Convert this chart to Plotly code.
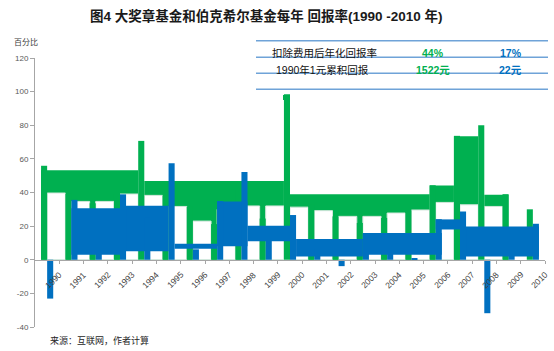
import plotly.graph_objects as go

# ---------------- data ----------------
years = [str(y) for y in range(1990, 2011)]
medallion = [55.9, 39.4, 33.6, 39.1, 70.7, 38.3, 31.5, 21.2, 41.5, 24.5, 98.5,
             33.0, 25.8, 21.9, 24.9, 29.5, 44.3, 73.7, 80.0, 39.0, 30.0]
berkshire = [-23.1, 35.6, 29.8, 38.9, 25.0, 57.4, 6.2, 34.9, 52.2, 19.9, 26.6,
             6.5, -3.8, 15.8, 4.3, 0.8, 24.1, 28.7, -31.8, 2.7, 21.4]

# broken-render green blocks (category units: start, end, top value)
green_block_start = [-0.25, 4.0, 10.0, 15.75, 16.75, 18.0]
green_block_end = [3.75, 9.75, 15.75, 16.75, 17.75, 19.0]
green_block_top = [53.2, 46.8, 39.0, 44.2, 73.4, 38.7]

# white gaps between the green bars (one per year 1990..2008)
gap_top = [39.7, 34.7, 34.7, 39.1, 38.3, 31.7, 23.0, 30.0, 32.0, 32.0,
           31.3, 29.2, 25.8, 25.8, 27.8, 29.6, 34.1, 32.7, 31.7]

# broken-render blue blocks
blue_block_start = [1.0, 3.0, 5.25, 7.0, 8.25, 10.25, 13.0, 16.0, 17.0]
blue_block_end = [3.0, 5.0, 7.0, 8.25, 10.0, 13.0, 16.25, 17.0, 20.25]
blue_block_low = [3.0, 5.0, 6.5, 8.0, 11.0, 2.0, 3.0, 18.0, 2.0]
blue_block_high = [30.7, 32.1, 9.5, 34.7, 20.2, 12.3, 15.9, 24.0, 19.8]

y_ticks = [-40, -20, 0, 20, 40, 60, 80, 100, 120]
y_tick_text = ["-40", "-20", "0", "20", "40", "60", "80", "100", "120"]

table_rows = ["扣除费用后年化回报率", "1990年1元累积回报"]
table_green = ["44%", "1522元"]
table_blue = ["17%", "22元"]

# ---------------- layout helpers ----------------
W, H = 554, 351
ML, MR, MT, MB = 35, 9, 58, 24
PW, PH = W - ML - MR, H - MT - MB


def px(x):
    return (x - ML) / PW


def py(y):
    return (H - MB - y) / PH


GREEN = "#00b050"
BLUE = "#0070c0"
FONT = "Liberation Sans, Arial, Noto Sans CJK SC, sans-serif"
idx = list(range(len(years)))
cat_px = PW / len(years)

fig = go.Figure()

# green blocks
fig.add_bar(
    x=[(s + e) / 2 for s, e in zip(green_block_start, green_block_end)],
    y=green_block_top,
    width=[e - s for s, e in zip(green_block_start, green_block_end)],
    base=0,
    marker=dict(color=GREEN, line=dict(width=0)),
)
# white gaps
fig.add_bar(
    x=list(range(len(gap_top))), y=gap_top, offset=0, width=0.75, base=0,
    marker=dict(color="white", line=dict(color="#d3e6dc", width=1)),
)
# Medallion thin bars
fig.add_bar(x=idx, y=medallion, offset=-0.25, width=0.25,
            marker=dict(color=GREEN, line=dict(width=0)))
# blue blocks
fig.add_bar(
    x=[(s + e) / 2 for s, e in zip(blue_block_start, blue_block_end)],
    y=[h - l for h, l in zip(blue_block_high, blue_block_low)],
    base=blue_block_low,
    width=[e - s for s, e in zip(blue_block_start, blue_block_end)],
    marker=dict(color=BLUE, line=dict(width=0)),
)
# Berkshire thin bars
fig.add_bar(x=idx, y=berkshire, offset=0, width=0.25,
            marker=dict(color=BLUE, line=dict(width=0)))

fig.update_layout(
    width=W, height=H,
    margin=dict(l=ML, r=MR, t=MT, b=MB, autoexpand=False),
    barmode="overlay",
    showlegend=False,
    plot_bgcolor="white", paper_bgcolor="white",
    font=dict(family=FONT, color="#404040"),
    xaxis=dict(
        range=[-0.5, 20.5], tickvals=[i + 0.5 for i in idx],
        showticklabels=False, anchor="free", position=40 / 160,
        showline=True, linecolor="#a6a6a6", linewidth=1,
        ticks="outside", ticklen=3, tickcolor="#a6a6a6",
        showgrid=False, zeroline=False, layer="above traces",
    ),
    yaxis=dict(
        range=[-40, 120], tickvals=y_ticks, ticktext=y_tick_text,
        showline=True, linecolor="#a6a6a6", linewidth=1,
        ticks="outside", ticklen=4, tickcolor="#a6a6a6",
        showgrid=False, zeroline=False, layer="above traces",
        tickfont=dict(size=8, color="#595959", family=FONT),
    ),
)

ann = []
# rotated year labels drawn on top of the bars (placed at category boundaries)
for i, yr in enumerate(years):
    ann.append(dict(text=yr, x=px(ML + (i + 1) * cat_px + 6.0), y=py(268.5),
                    xref="paper", yref="paper",
                    xanchor="right", yanchor="top", textangle=-45, showarrow=False,
                    borderpad=0, font=dict(size=8.5, color="#404040", family=FONT)))
ann.append(dict(text="<b>图4 大奖章基金和伯克希尔基金每年 回报率(1990 -2010 年)</b>",
                x=px(266), y=py(16), xref="paper", yref="paper",
                xanchor="center", yanchor="middle", showarrow=False,
                font=dict(size=13.5, color="#1a1a1a", family=FONT)))
ann.append(dict(text="百分比", x=px(12), y=py(42.5), xref="paper", yref="paper",
                xanchor="left", yanchor="middle", showarrow=False,
                font=dict(size=8, color="#404040", family=FONT)))
ann.append(dict(text="来源：互联网，作者计算", x=px(48), y=py(340.5), xref="paper",
                yref="paper", xanchor="left", yanchor="middle", showarrow=False,
                font=dict(size=9, color="#262626", family=FONT)))

row_y = [53.3, 70.0]
row_x = [324, 322.5]
for r in range(len(table_rows)):
    ann.append(dict(text=table_rows[r], x=px(row_x[r]), y=py(row_y[r]),
                    xref="paper", yref="paper", xanchor="center", yanchor="middle",
                    showarrow=False, font=dict(size=10.5, color="#111111", family=FONT)))
    ann.append(dict(text="<b>" + table_green[r] + "</b>", x=px(433), y=py(row_y[r]),
                    xref="paper", yref="paper", xanchor="center", yanchor="middle",
                    showarrow=False, font=dict(size=10.5, color=GREEN, family=FONT)))
    ann.append(dict(text="<b>" + table_blue[r] + "</b>", x=px(510.5), y=py(row_y[r]),
                    xref="paper", yref="paper", xanchor="center", yanchor="middle",
                    showarrow=False, font=dict(size=10.5, color=BLUE, family=FONT)))
fig.update_layout(annotations=ann)

shapes = []
for ly in [40.7, 57.3, 73.3, 89.3]:
    shapes.append(dict(type="line", xref="paper", yref="paper",
                       x0=px(256), x1=px(548), y0=py(ly), y1=py(ly),
                       line=dict(color="#6fa3d8", width=1.5), layer="above"))
shapes.append(dict(type="rect", xref="paper", yref="paper",
                   x0=px(283), x1=px(288), y0=py(100), y1=py(95),
                   fillcolor=GREEN, line=dict(width=0), layer="above"))
fig.update_layout(shapes=shapes)

fig.write_html("out.html")
